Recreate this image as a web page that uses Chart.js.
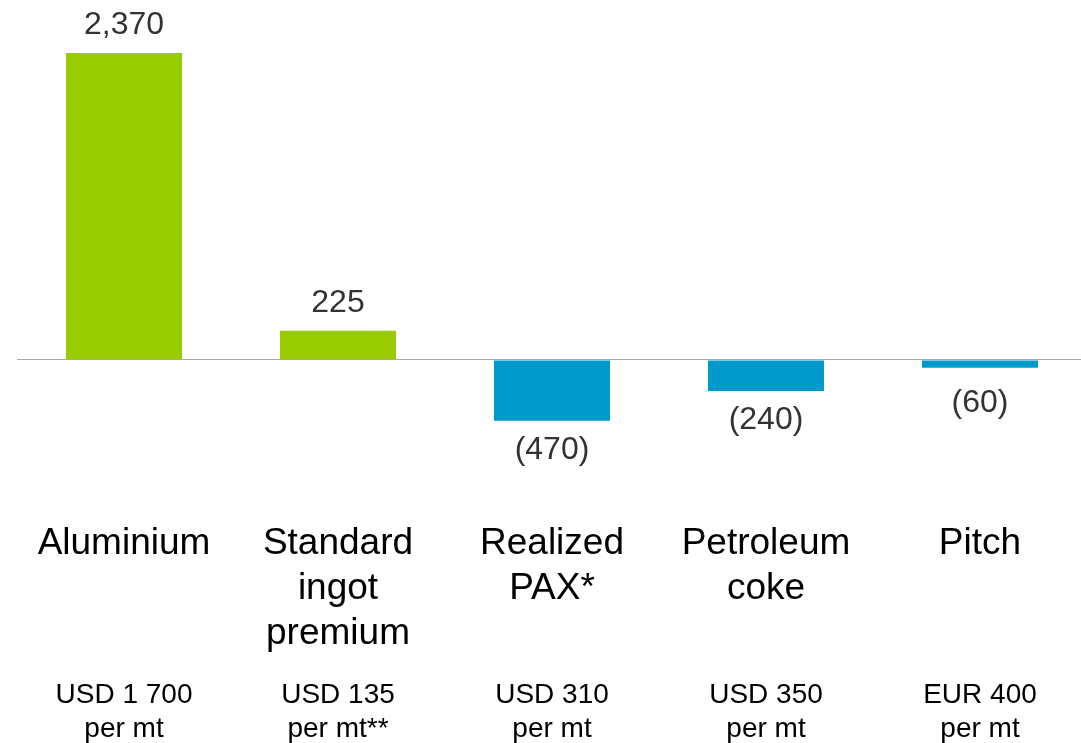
<!DOCTYPE html>
<html>
<head>
<meta charset="utf-8">
<script src="https://cdn.jsdelivr.net/npm/chart.js@4"></script>
<style>
  html, body { margin: 0; padding: 0; background: #fff; overflow: hidden; }
  #wrap { position: relative; width: 1090px; height: 759px; }
</style>
</head>
<body>
<div id="wrap"><canvas id="bar-chart"></canvas></div>
<script>
const categories = [
  ['Aluminium'],
  ['Standard', 'ingot', 'premium'],
  ['Realized', 'PAX*'],
  ['Petroleum', 'coke'],
  ['Pitch']
]
const priceLabels = [
  ['USD 1 700', 'per mt'],
  ['USD 135', 'per mt**'],
  ['USD 310', 'per mt'],
  ['USD 350', 'per mt'],
  ['EUR 400', 'per mt']
]
const values = [2370, 225, -470, -240, -60]

const FONT = 'Liberation Sans, Arial, sans-serif'

// value labels above / below each bar, negatives in brackets
const valueLabels = {
  id: 'valueLabels',
  afterDatasetsDraw(chart) {
    const ctx = chart.ctx
    const meta = chart.getDatasetMeta(0)
    const zeroY = chart.scales.y.getPixelForValue(0)
    ctx.save()
    ctx.font = '32px ' + FONT
    ctx.fillStyle = '#333333'
    ctx.textAlign = 'center'
    ctx.textBaseline = 'middle'
    meta.data.forEach((bar, i) => {
      const v = values[i]
      const txt = v < 0 ? '(' + Math.abs(v) + ')' : v.toLocaleString('en-US')
      const y = v < 0 ? Math.max(bar.y + 29, zeroY + 43) : bar.y - 28
      ctx.fillText(txt, bar.x, y)
    })
    ctx.restore()
  }
}

window.onload = () => {
  new Chart(document.getElementById('bar-chart'), {
    type: 'bar',
    data: {
      labels: categories,
      datasets: [{
        data: values,
        backgroundColor: values.map(v => v < 0 ? '#0099cc' : '#99cc00'),
        barPercentage: 0.542,
        categoryPercentage: 1
      }]
    },
    options: {
      responsive: true,
      maintainAspectRatio: false,
      animation: false,
      layout: { padding: { left: 17, right: 3, top: 0, bottom: 0 } },
      plugins: {
        legend: { display: false },
        tooltip: { enabled: false }
      },
      scales: {
        x: {
          weight: 0,
          grid: { display: false, drawTicks: false },
          border: { display: false },
          ticks: {
            color: '#000',
            autoSkip: false,
            maxRotation: 0,
            padding: 10,
            font: { family: FONT, size: 37, lineHeight: 45 / 37 }
          }
        },
        x2: {
          type: 'category',
          position: 'bottom',
          weight: 1,
          offset: true,
          labels: priceLabels,
          grid: { display: false, drawTicks: false },
          border: { display: false },
          ticks: {
            color: '#000',
            autoSkip: false,
            maxRotation: 0,
            padding: 12.5,
            font: { family: FONT, size: 28, lineHeight: 34 / 28 }
          }
        },
        y: {
          min: -1166,
          max: 2779,
          afterBuildTicks: axis => { axis.ticks = [{ value: 0 }] },
          ticks: { display: false },
          border: { display: false },
          grid: { drawTicks: false, color: '#aaaaaa', lineWidth: 1 }
        }
      }
    },
    plugins: [valueLabels]
  })
}
</script>
</body>
</html>
